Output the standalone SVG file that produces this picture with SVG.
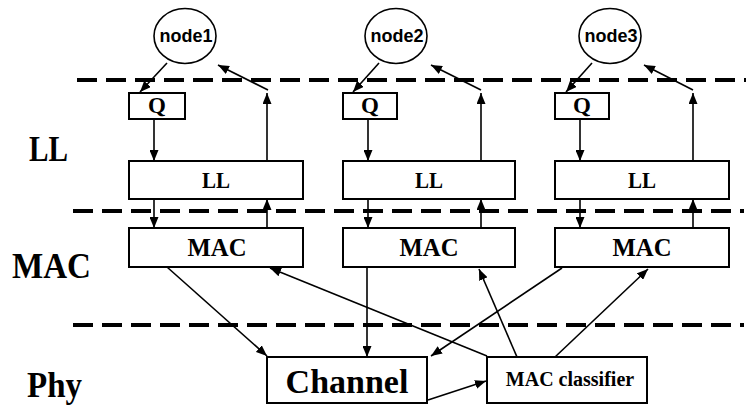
<svg xmlns="http://www.w3.org/2000/svg" width="753" height="405" viewBox="0 0 753 405">
  <style>
    .box { fill: #fff; stroke: #000; stroke-width: 2; }
    .node { fill: #fff; stroke: #000; stroke-width: 1.6; }
    .sep { stroke: #000; stroke-width: 4; stroke-dasharray: 20 9; fill: none; }
    .wire { stroke: #000; stroke-width: 1.6; fill: none; marker-end: url(#head); }
    .serif { font-family: 'Liberation Serif', Tinos, 'Times New Roman', serif; font-weight: 700; fill: #000; text-anchor: middle; }
    .sans { font-family: 'Liberation Sans', Arimo, Arial, sans-serif; font-weight: 700; fill: #000; text-anchor: middle; font-size: 18px; }
    .layer { font-family: 'Liberation Serif', Tinos, 'Times New Roman', serif; font-weight: 700; fill: #000; font-size: 35px; }
  </style>
  <defs>
    <marker id="head" viewBox="0 0 11 9" refX="11" refY="4.5" markerWidth="11" markerHeight="9" markerUnits="userSpaceOnUse" orient="auto">
      <path d="M0,0 L11,4.5 L0,9 Z" fill="#000"/>
    </marker>
  </defs>

  <rect width="753" height="405" fill="#fff"/>

  <!-- layer separators -->
  <g id="separators">
    <line class="sep" x1="77" y1="80" x2="746" y2="80"/>
    <line class="sep" x1="73" y1="211" x2="744" y2="211"/>
    <line class="sep" x1="73" y1="325" x2="744" y2="325"/>
  </g>

  <!-- layer names -->
  <g id="layer-labels">
    <text class="layer" x="29" y="161" textLength="39" lengthAdjust="spacingAndGlyphs">LL</text>
    <text class="layer" x="12" y="278" textLength="79" lengthAdjust="spacingAndGlyphs">MAC</text>
    <text class="layer" x="27" y="397" textLength="55" lengthAdjust="spacingAndGlyphs">Phy</text>
  </g>

  <!-- nodes -->
  <g id="node1"><ellipse class="node" cx="185" cy="36" rx="31" ry="27.5"/><text class="sans" x="186" y="42">node1</text></g>
  <g id="node2"><ellipse class="node" cx="396" cy="36" rx="31" ry="27.5"/><text class="sans" x="397" y="42">node2</text></g>
  <g id="node3"><ellipse class="node" cx="610" cy="36" rx="31" ry="27.5"/><text class="sans" x="611" y="42">node3</text></g>

  <g id="q1"><rect class="box" x="129" y="93" width="56" height="26"/><text class="serif" x="157" y="113" font-size="23">Q</text></g>
  <g id="q2"><rect class="box" x="343" y="93" width="54" height="26"/><text class="serif" x="370" y="113" font-size="23">Q</text></g>
  <g id="q3"><rect class="box" x="555" y="93" width="54" height="26"/><text class="serif" x="582" y="113" font-size="23">Q</text></g>

  <g id="ll1"><rect class="box" x="129" y="161" width="174" height="38"/><text class="serif" x="216" y="188" font-size="24" textLength="28" lengthAdjust="spacingAndGlyphs">LL</text></g>
  <g id="ll2"><rect class="box" x="343" y="161" width="172" height="38"/><text class="serif" x="429" y="188" font-size="24" textLength="28" lengthAdjust="spacingAndGlyphs">LL</text></g>
  <g id="ll3"><rect class="box" x="555" y="161" width="174" height="38"/><text class="serif" x="642" y="188" font-size="24" textLength="28" lengthAdjust="spacingAndGlyphs">LL</text></g>

  <g id="mac1"><rect class="box" x="129" y="228" width="174" height="39"/><text class="serif" x="217" y="256" font-size="26" textLength="59" lengthAdjust="spacingAndGlyphs">MAC</text></g>
  <g id="mac2"><rect class="box" x="343" y="228" width="172" height="39"/><text class="serif" x="429" y="256" font-size="26" textLength="59" lengthAdjust="spacingAndGlyphs">MAC</text></g>
  <g id="mac3"><rect class="box" x="555" y="228" width="174" height="39"/><text class="serif" x="642" y="256" font-size="26" textLength="59" lengthAdjust="spacingAndGlyphs">MAC</text></g>

  <g id="channel"><rect class="box" x="267" y="357" width="160" height="46"/><text class="serif" x="347" y="393" font-size="34">Channel</text></g>
  <g id="classifier"><rect class="box" x="487" y="357" width="160" height="46"/><text class="serif" x="570" y="386" font-size="20">MAC classifier</text></g>

  <!-- connectors -->
  <g id="connectors">
    <!-- node -> queue -->
    <line class="wire" x1="167" y1="63" x2="140" y2="92"/>
    <line class="wire" x1="379" y1="63" x2="353" y2="92"/>
    <line class="wire" x1="592" y1="63" x2="566" y2="92"/>
    <!-- upward delivery to node -->
    <line class="wire" x1="268" y1="90" x2="218" y2="65"/>
    <line class="wire" x1="481" y1="90" x2="431" y2="65"/>
    <line class="wire" x1="693" y1="90" x2="644" y2="65"/>
    <!-- queue -> LL -->
    <line class="wire" x1="154" y1="119" x2="154" y2="161"/>
    <line class="wire" x1="368" y1="119" x2="368" y2="161"/>
    <line class="wire" x1="580" y1="119" x2="580" y2="161"/>
    <!-- LL up -->
    <line class="wire" x1="267" y1="161" x2="267" y2="93"/>
    <line class="wire" x1="481" y1="161" x2="481" y2="93"/>
    <line class="wire" x1="693" y1="161" x2="693" y2="93"/>
    <!-- LL -> MAC -->
    <line class="wire" x1="154" y1="199" x2="154" y2="228"/>
    <line class="wire" x1="368" y1="199" x2="368" y2="228"/>
    <line class="wire" x1="580" y1="199" x2="580" y2="228"/>
    <!-- MAC -> LL -->
    <line class="wire" x1="267" y1="228" x2="267" y2="199"/>
    <line class="wire" x1="481" y1="228" x2="481" y2="199"/>
    <line class="wire" x1="693" y1="228" x2="693" y2="199"/>
    <!-- MAC -> channel -->
    <line class="wire" x1="167" y1="267" x2="267" y2="356"/>
    <line class="wire" x1="367" y1="267" x2="367" y2="357"/>
    <line class="wire" x1="562" y1="268" x2="431" y2="356"/>
    <!-- classifier -> MAC -->
    <line class="wire" x1="487" y1="356" x2="270" y2="268"/>
    <line class="wire" x1="517" y1="357" x2="479" y2="269"/>
    <line class="wire" x1="555" y1="357" x2="648" y2="269"/>
    <!-- channel -> classifier -->
    <line class="wire" x1="428" y1="400" x2="486" y2="381"/>
  </g>
</svg>
